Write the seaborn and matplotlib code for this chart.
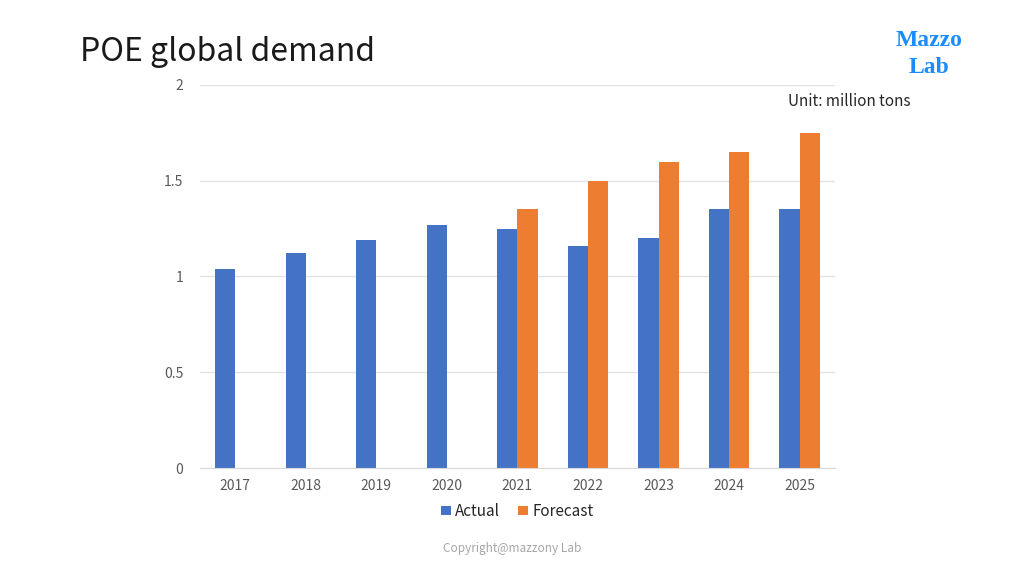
import numpy as np
import pandas as pd
import seaborn as sns
import matplotlib.pyplot as plt

years = ["2017", "2018", "2019", "2020", "2021", "2022", "2023", "2024", "2025"]
actual = [1.04, 1.12, 1.19, 1.27, 1.25, 1.16, 1.20, 1.35, 1.35]
forecast = [np.nan, np.nan, np.nan, np.nan, 1.35, 1.50, 1.60, 1.65, 1.75]
series_names = ["Actual", "Forecast"]
series_colors = ["#4472C4", "#ED7D31"]

sns.set_style("white")
plt.rcParams["font.family"] = ["Noto Sans CJK SC", "DejaVu Sans"]

df = pd.DataFrame({
    "year": years * 2,
    "value": actual + forecast,
    "series": ["Actual"] * len(years) + ["Forecast"] * len(years),
})

fig = plt.figure(figsize=(10.24, 5.76), dpi=100)
ax = fig.add_axes([0.1953, 0.1875, 0.62, 0.665])

sns.barplot(data=df, x="year", y="value", hue="series", hue_order=series_names,
            palette=series_colors, width=0.57, saturation=1, ax=ax,
            edgecolor="none")

ax.set_ylim(0, 2)
ax.set_yticks([0, 0.5, 1, 1.5, 2])
ax.set_yticklabels(["0", "0.5", "1", "1.5", "2"])
ax.set_xlabel("")
ax.set_ylabel("")
ax.grid(axis="y", color="#e3e3e3", linewidth=1)
ax.set_axisbelow(True)
for side in ["top", "right", "left"]:
    ax.spines[side].set_visible(False)
ax.spines["bottom"].set_color("#d9d9d9")
ax.tick_params(axis="both", length=0, labelsize=10, colors="#595959", pad=8)
ax.tick_params(axis="y", pad=12)

ax.legend(loc="upper center", bbox_to_anchor=(0.5, -0.055), ncol=2, frameon=False,
          fontsize=11, handlelength=0.6, handleheight=0.6, handletextpad=0.3,
          columnspacing=1.2, labelcolor="#262626")

fig.text(0.078, 0.91, "POE global demand", fontsize=23, color="#1a1a1a",
         fontweight="light", va="center", ha="left")
fig.text(0.889, 0.824, "Unit: million tons", fontsize=11, color="#262626",
         va="center", ha="right")
fig.text(0.907, 0.93, "Mazzo", fontsize=17, color="#1a8cff", fontweight="bold",
         family="Liberation Serif", ha="center", va="center")
fig.text(0.907, 0.883, "Lab", fontsize=17, color="#1a8cff", fontweight="bold",
         family="Liberation Serif", ha="center", va="center")
fig.text(0.5, 0.047, "Copyright@mazzony Lab", fontsize=8.5, color="#a6a6a6",
         ha="center", va="center")

fig.savefig("out.png", dpi=100, facecolor="white")
